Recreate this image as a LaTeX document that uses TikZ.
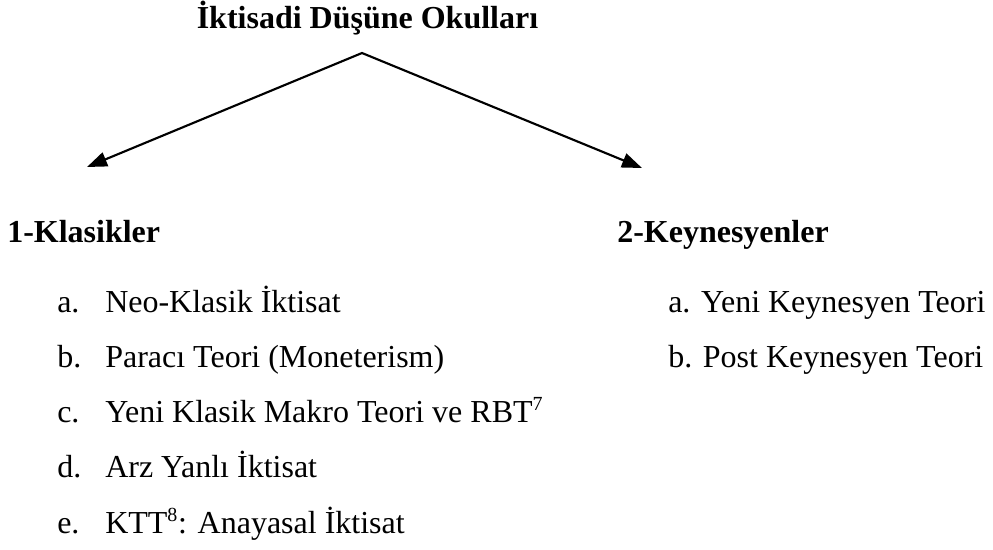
\documentclass[tikz,border=0pt]{standalone}
\usepackage{fontspec}
\setmainfont{Liberation Serif}
\usetikzlibrary{arrows.meta}
\newcommand{\fn}[1]{\textsuperscript{\fontsize{15}{15}\selectfont #1}}
\begin{document}
\begin{tikzpicture}[x=0.75pt,y=-0.75pt,
  every node/.style={inner sep=0pt, font=\fontsize{24}{28}\selectfont},
  head/.style={anchor=base west, font=\fontsize{24}{28}\selectfont\bfseries},
  item/.style={anchor=base west}]
\useasboundingbox (0,0) rectangle (993,550);
\node [anchor=base, font=\fontsize{24}{28}\selectfont\bfseries] (title) at (367.5,28) {İktisadi Düşüne Okulları};

\coordinate (apex) at (362,53);
\coordinate (ltip) at (87,167);
\coordinate (rtip) at (642,168);
\draw [line width=1.6pt, {Triangle[length=15pt,width=11pt]}-{Triangle[length=15pt,width=11pt]}] (ltip) -- (apex) -- (rtip);

\node [head] (klasik) at (7,242) {1-Klasikler};
\node [head] (keynes) at (617,242) {2-Keynesyenler};

\foreach \l/\t [count=\i] in {a./Neo-Klasik İktisat, b./Paracı Teori (Moneterism), c./Yeni Klasik Makro Teori ve RBT\fn{7}, d./Arz Yanlı İktisat, e./KTT\fn{8}: Anayasal İktisat} {
\node [item] (kl\i) at (57,{256.7+55.3*\i}) {\l};
\node [item] (kt\i) at (105,{256.7+55.3*\i}) {\t};}

\node [item] (ke1) at (668,312) {a. Yeni Keynesyen Teori};
\node [item] (ke2) at (668,367) {b. Post Keynesyen Teori};
\end{tikzpicture}
\end{document}
